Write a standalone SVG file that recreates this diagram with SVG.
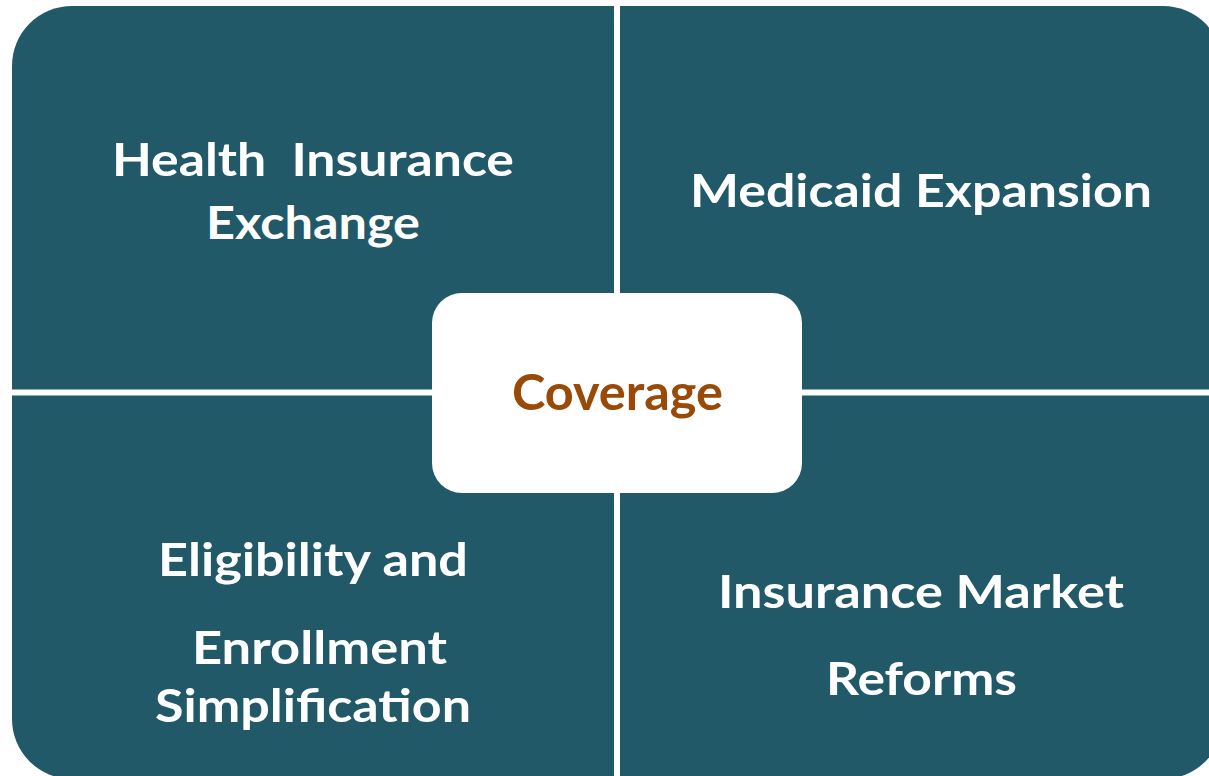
<svg xmlns="http://www.w3.org/2000/svg" width="1209" height="776" viewBox="0 0 1209 776">
<style>
.q{fill:#225968}
.t{font-family:Lato,"Open Sans","Liberation Sans",sans-serif;font-weight:bold;font-size:45px;fill:#ffffff;text-anchor:middle;white-space:pre}
.c{font-family:Lato,"Open Sans","Liberation Sans",sans-serif;font-weight:bold;font-size:50px;fill:#994A08;text-anchor:middle}
</style>
<rect width="1209" height="776" fill="#ffffff"/>
<g id="quad-health-insurance-exchange">
<path class="q" d="M12,66 A60,60 0 0 1 72,6 H614 V389.5 H12 Z"/>
<text class="t" x="313" y="176" textLength="402" lengthAdjust="spacingAndGlyphs">Health  Insurance</text>
<text class="t" x="313" y="239" textLength="214" lengthAdjust="spacingAndGlyphs">Exchange</text>
</g>
<g id="quad-medicaid-expansion">
<path class="q" d="M620,6 H1163 A60,60 0 0 1 1223,66 V389.5 H620 Z"/>
<text class="t" x="921" y="207" textLength="462" lengthAdjust="spacingAndGlyphs">Medicaid Expansion</text>
</g>
<g id="quad-eligibility">
<path class="q" d="M12,395.5 H614 V779 H72 A60,60 0 0 1 12,719 Z"/>
<text class="t" x="313" y="576" textLength="310" lengthAdjust="spacingAndGlyphs">Eligibility and</text>
<text class="t" x="319.5" y="664" textLength="255" lengthAdjust="spacingAndGlyphs">Enrollment</text>
<text class="t" x="313" y="722" textLength="316" lengthAdjust="spacingAndGlyphs">Simplification</text>
</g>
<g id="quad-insurance-market-reforms">
<path class="q" d="M620,395.5 H1223 V719 A60,60 0 0 1 1163,779 H620 Z"/>
<text class="t" x="921" y="608" textLength="406" lengthAdjust="spacingAndGlyphs">Insurance Market</text>
<text class="t" x="921.5" y="695" textLength="191" lengthAdjust="spacingAndGlyphs">Reforms</text>
</g>
<g id="center-coverage">
<rect x="432" y="293" width="370" height="200" rx="30" ry="30" fill="#ffffff"/>
<text class="c" x="617.5" y="410" textLength="211" lengthAdjust="spacingAndGlyphs">Coverage</text>
</g>
<g id="connectors"/>
</svg>
